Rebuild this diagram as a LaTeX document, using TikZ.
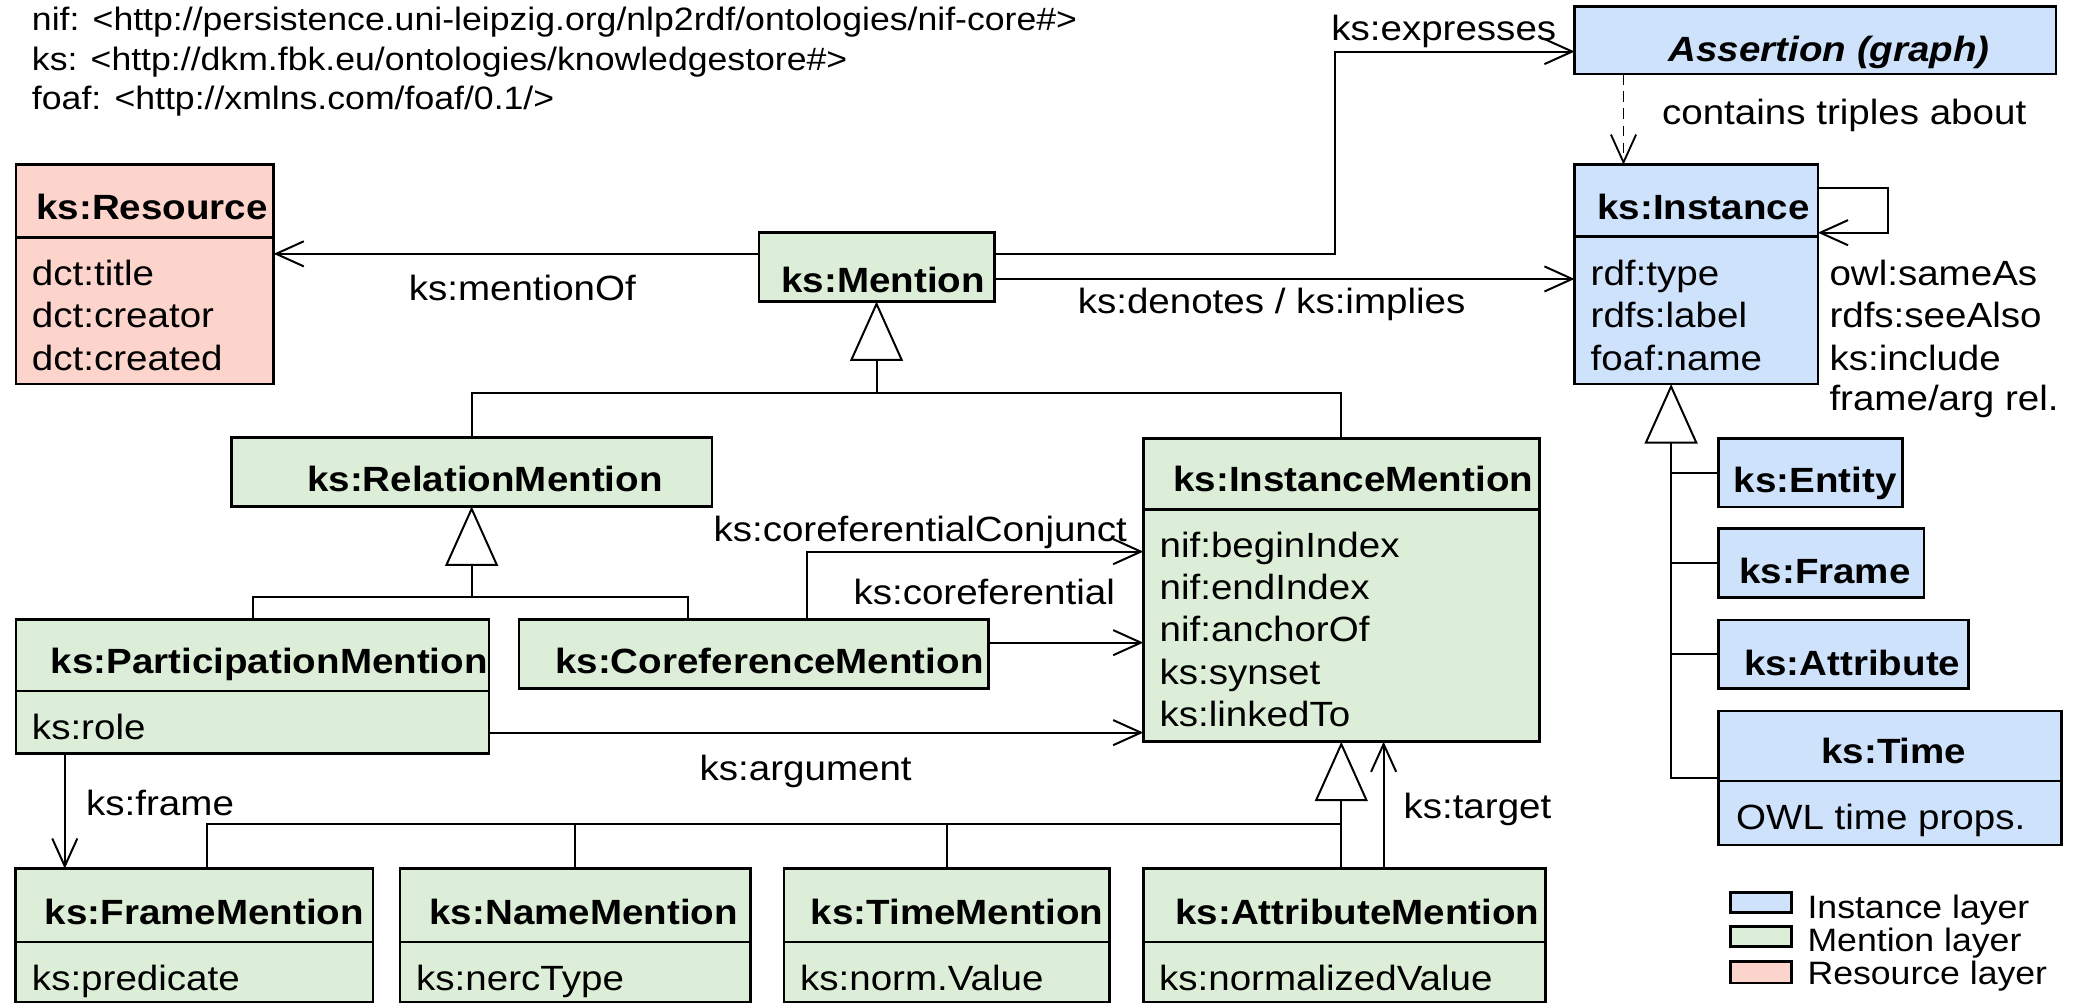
\documentclass[tikz,border=0pt]{standalone}
\usepackage{fontspec}
\setmainfont{Liberation Sans}[FakeStretch=1.1]
\usetikzlibrary{arrows.meta,calc}
\definecolor{instblue}{RGB}{206,226,252}
\definecolor{mengreen}{RGB}{220,238,216}
\definecolor{respink}{RGB}{252,212,204}
\newcommand{\mainsize}{\fontsize{26.5}{32}\selectfont}
\tikzset{
  cls/.style={draw, line width=2pt, anchor=north west, inner sep=0pt, outer sep=0pt},
  sepline/.style={line width=2pt},
  hdr/.style={anchor=base, inner sep=0pt, font=\mainsize\bfseries},
  attr/.style={anchor=base west, inner sep=0pt},
  lbl/.style={anchor=base west, inner sep=0pt},
  small/.style={anchor=base west, inner sep=0pt, font=\fontsize{24.5}{30}\selectfont},
  line/.style={line width=1.5pt},
  assoc/.style={line, -{Straight Barb[length=21pt,width=19pt,line width=1.5pt]}},
  dep/.style={line width=1.4pt, dash pattern=on 8pt off 5pt, -{Straight Barb[length=21pt,width=19pt,line width=1.4pt]}},
  gen/.style={line, -{Triangle[length=45pt,width=40pt,fill=white,line width=1.5pt]}},
}

\begin{document}
\begin{tikzpicture}[x=1pt,y=-1pt,font=\mainsize]
\useasboundingbox (0,0) rectangle (1568,759);
%% namespaces
\node[small] (ns-nif) at (24,23) {nif: <http://persistence.uni-leipzig.org/nlp2rdf/ontologies/nif-core\#>};
\node[small] (ns-ks) at (24,53) {ks: <http://dkm.fbk.eu/ontologies/knowledgestore\#>};
\node[small] (ns-foaf) at (24,83) {foaf: <http://xmlns.com/foaf/0.1/>};

%% resource layer
\node[cls, fill=respink, minimum width=195pt, minimum height=166pt] (res) at (12,124.5) {};
\draw[sepline] ([yshift=-55pt]res.north west) -- ([yshift=-55pt]res.north east);
\node[hdr] (res-h) at (115,166) {ks:Resource};
\node[attr] (res-a1) at (24,215.6) {dct:title};
\node[attr] (res-a2) at (24,248) {dct:creator};
\node[attr] (res-a3) at (24,280) {dct:created};

%% instance layer
\node[cls, fill=instblue, minimum width=364pt, minimum height=51pt] (assert) at (1191,5) {};
\node[hdr, font=\mainsize\bfseries\itshape] (assert-h) at (1383.6,46.6) {Assertion (graph)};
\node[cls, fill=instblue, minimum width=184pt, minimum height=166pt] (inst) at (1191,124.5) {};
\draw[sepline] ([yshift=-54.5pt]inst.north west) -- ([yshift=-54.5pt]inst.north east);
\node[hdr] (inst-h) at (1288.5,166) {ks:Instance};
\node[attr] (inst-a1) at (1203,215.6) {rdf:type};
\node[attr] (inst-a2) at (1203,248) {rdfs:label};
\node[attr] (inst-a3) at (1203,280) {foaf:name};
\node[cls, fill=instblue, minimum width=139pt, minimum height=52pt] (ent) at (1300,331.5) {};
\node[hdr] (ent-h) at (1373,372.6) {ks:Entity};
\node[cls, fill=instblue, minimum width=155.3pt, minimum height=52.2pt] (frm) at (1300,399.6) {};
\node[hdr] (frm-h) at (1380.4,441.2) {ks:Frame};
\node[cls, fill=instblue, minimum width=188.8pt, minimum height=51.6pt] (att) at (1300,469) {};
\node[hdr] (att-h) at (1401,510.6) {ks:Attribute};
\node[cls, fill=instblue, minimum width=259.4pt, minimum height=101.3pt] (time) at (1300,537.8) {};
\draw[sepline] ([yshift=-52.9pt]time.north west) -- ([yshift=-52.9pt]time.north east);
\node[hdr] (time-h) at (1432.5,577.4) {ks:Time};
\node[attr] (time-a1) at (1313,627.3) {OWL time props.};

%% mention layer
\node[cls, fill=mengreen, minimum width=178pt, minimum height=52pt] (men) at (574,176) {};
\node[hdr] (men-h) at (668,221) {ks:Mention};
\node[cls, fill=mengreen, minimum width=363.5pt, minimum height=52pt] (relmen) at (175,331) {};
\node[hdr] (relmen-h) at (366.8,371.9) {ks:RelationMention};
\node[cls, fill=mengreen, minimum width=299.5pt, minimum height=229.5pt] (instmen) at (864.8,331.5) {};
\draw[sepline] ([yshift=-53.7pt]instmen.north west) -- ([yshift=-53.7pt]instmen.north east);
\node[hdr] (instmen-h) at (1023.6,371.9) {ks:InstanceMention};
\node[attr] (instmen-a1) at (876.9,421.5) {nif:beginIndex};
\node[attr] (instmen-a2) at (876.9,453.5) {nif:endIndex};
\node[attr] (instmen-a3) at (876.9,485.5) {nif:anchorOf};
\node[attr] (instmen-a4) at (876.9,517.5) {ks:synset};
\node[attr] (instmen-a5) at (876.9,549.5) {ks:linkedTo};
\node[cls, fill=mengreen, minimum width=358pt, minimum height=101.3pt] (partmen) at (12,468.5) {};
\draw[sepline] ([yshift=-54.2pt]partmen.north west) -- ([yshift=-54.2pt]partmen.north east);
\node[hdr] (partmen-h) at (203.7,509.8) {ks:ParticipationMention};
\node[attr] (partmen-a1) at (24,559.2) {ks:role};
\node[cls, fill=mengreen, minimum width=355pt, minimum height=52.2pt] (corefmen) at (392.6,468.4) {};
\node[hdr] (corefmen-h) at (582,509.8) {ks:CoreferenceMention};
%
\node[cls, fill=mengreen, minimum width=270.3pt, minimum height=101pt] (frmmen) at (11.7,657) {};
\draw[sepline] ([yshift=-55.5pt]frmmen.north west) -- ([yshift=-55.5pt]frmmen.north east);
\node[hdr] (frmmen-h) at (154.7,699) {ks:FrameMention};
\node[attr] (frmmen-a1) at (24,749) {ks:predicate};
\node[cls, fill=mengreen, minimum width=265pt, minimum height=101pt] (namemen) at (302.5,657) {};
\draw[sepline] ([yshift=-55.5pt]namemen.north west) -- ([yshift=-55.5pt]namemen.north east);
\node[hdr] (namemen-h) at (441.5,699) {ks:NameMention};
\node[attr] (namemen-a1) at (314.6,749) {ks:nercType};
\node[cls, fill=mengreen, minimum width=246pt, minimum height=101pt] (timemen) at (593,657) {};
\draw[sepline] ([yshift=-55.5pt]timemen.north west) -- ([yshift=-55.5pt]timemen.north east);
\node[hdr] (timemen-h) at (724,699) {ks:TimeMention};
\node[attr] (timemen-a1) at (605,749) {ks:norm.Value};
\node[cls, fill=mengreen, minimum width=304pt, minimum height=101pt] (attrmen) at (865,657) {};
\draw[sepline] ([yshift=-55.5pt]attrmen.north west) -- ([yshift=-55.5pt]attrmen.north east);
\node[hdr] (attrmen-h) at (1026.7,699) {ks:AttributeMention};
\node[attr] (attrmen-a1) at (876.5,749) {ks:normalizedValue};

%% connectors
\coordinate (m1) at ([yshift=10pt]men.west);
\draw[assoc] (m1) -- (m1 -| res.east);
\coordinate (m2) at ([yshift=10pt]men.east);
\coordinate (a1) at ([yshift=-8.5pt]assert.west);
\draw[assoc] (m2) -- ++(258,0) |- (a1);
\coordinate (m3) at ([yshift=-9pt]men.east);
\draw[assoc] (m3) -- (m3 -| inst.west);
\coordinate (a2) at ([xshift=-145pt]assert.south);
\draw[dep] (a2) -- (a2 |- inst.north);
\coordinate (i1) at ([yshift=65pt]inst.east);
\coordinate (i2) at ([yshift=31.5pt]inst.east);
\draw[assoc] (i1) -- ++(53,0) |- (i2);
%
\coordinate (i3) at ([xshift=-19pt]inst.south);
\draw[line] (ent.west) -- (ent.west -| i3);
\draw[line] (frm.west) -- (frm.west -| i3);
\draw[line] (att.west) -- (att.west -| i3);
\draw[gen] (time.west) -| (i3);
%
\coordinate (j1) at ([yshift=-69pt]men.south);
\draw[line] (relmen.north) |- (j1) -| (instmen.north);
\draw[gen] (j1) -- (men.south);
\coordinate (j2) at ([yshift=-68.8pt]relmen.south);
\coordinate (c1) at ([xshift=-49.5pt]corefmen.north);
\draw[line] (partmen.north) |- (j2) -| (c1);
\draw[gen] (j2) -- (relmen.south);
%
\coordinate (c2) at ([xshift=40.6pt]corefmen.north);
\coordinate (k1) at ([yshift=29pt]instmen.west);
\draw[assoc] (c2) |- (k1);
\coordinate (c3) at ([yshift=8.4pt]corefmen.east);
\draw[assoc] (c3) -- (c3 -| instmen.west);
\coordinate (p1) at ([yshift=-35pt]partmen.east);
\draw[assoc] (p1) -- (p1 -| instmen.west);
\coordinate (p2) at ([xshift=-142pt]partmen.south);
\draw[assoc] (p2) -- (p2 |- frmmen.north);
%
\coordinate (j3) at ([yshift=-62.5pt]instmen.south);
\draw[line] ([xshift=10pt]frmmen.north) |- (j3);
\draw[line] (namemen.north) -- (namemen.north |- j3);
\draw[line] (timemen.north) -- (timemen.north |- j3);
\draw[gen] (attrmen.north -| instmen.south) -- (instmen.south);
\coordinate (t1) at ([xshift=32pt]instmen.south);
\draw[assoc] (t1 |- attrmen.north) -- (t1);

%% connector labels
\node[lbl] (l-mentionof) at (309,227) {ks:mentionOf};
\node[lbl] (l-expresses) at (1006.8,30.3) {ks:expresses};
\node[lbl] (l-denotes) at (815,237) {ks:denotes / ks:implies};
\node[lbl] (l-contains) at (1257,94.5) {contains triples about};
\node[lbl] (l-sameas) at (1383.6,215.6) {owl:sameAs};
\node[lbl] (l-seealso) at (1383.6,248) {rdfs:seeAlso};
\node[lbl] (l-include) at (1383.6,280) {ks:include};
\node[lbl] (l-framearg) at (1383.6,310.5) {frame/arg rel.};
\node[lbl] (l-conj) at (539.5,409.7) {ks:coreferentialConjunct};
\node[lbl] (l-coref) at (645.4,457.6) {ks:coreferential};
\node[lbl] (l-arg) at (529,590) {ks:argument};
\node[lbl] (l-frame) at (65,616.5) {ks:frame};
\node[lbl] (l-target) at (1061.4,619) {ks:target};

%% legend
\node[cls, fill=instblue, minimum width=46pt, minimum height=15pt] (lg-inst) at (1309,675) {};
\node[cls, fill=mengreen, minimum width=46pt, minimum height=15pt] (lg-men) at (1309,701) {};
\node[cls, fill=respink, minimum width=46pt, minimum height=16pt] (lg-res) at (1309,727.5) {};
\node[small] (lg-inst-t) at (1367,694.6) {Instance layer};
\node[small] (lg-men-t) at (1367,719.8) {Mention layer};
\node[small] (lg-res-t) at (1367,745) {Resource layer};
\end{tikzpicture}
\end{document}
